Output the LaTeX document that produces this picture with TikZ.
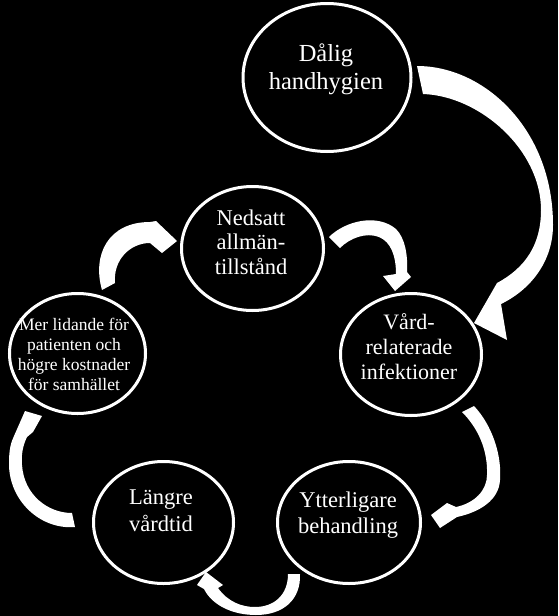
\documentclass[tikz,border=0pt]{standalone}
\usepackage{fontspec}
\setmainfont{Liberation Serif}
\usetikzlibrary{shapes.geometric}
\begin{document}
\begin{tikzpicture}[x=1pt,y=-1pt,
  cyc/.style={ellipse,draw=white,line width=3pt,fill=black,inner sep=0pt,outer sep=0pt},
  lbl/.style={text=white,align=center,inner sep=0pt},
  blockarrow/.style={fill=white,draw=none}]
\fill[black] (0,0) rectangle (558,616);
\useasboundingbox (0,0) rectangle (558,616);

% ellipses
\node[cyc,minimum width=168pt,minimum height=148pt] (dal) at (327,77.5) {};
\node[cyc,minimum width=142pt,minimum height=124pt] (ned) at (252.5,248.5) {};
\node[cyc,minimum width=141pt,minimum height=122pt] (vard) at (411,354.5) {};
\node[cyc,minimum width=136pt,minimum height=120pt] (mer) at (77.5,353.5) {};
\node[cyc,minimum width=140pt,minimum height=122pt] (lang) at (163.5,522.5) {};
\node[cyc,minimum width=143pt,minimum height=122pt] (ytt) at (349,522.5) {};

% texts
\node[lbl,font=\fontsize{24.5}{28}\selectfont] (dal-t) at (326,69.5) {Dålig\\handhygien};
\node[lbl,font=\fontsize{22.5}{24.5}\selectfont] (ned-t) at (251,242) {Nedsatt\\allmän-\\tillstånd};
\node[lbl,font=\fontsize{22}{25}\selectfont] (vard-t) at (409,346.5) {Vård-\\relaterade\\infektioner};
\node[lbl,font=\fontsize{17.5}{20}\selectfont] (mer-t) at (74,354) {Mer lidande för\\patienten och\\högre kostnader\\för samhället};
\node[lbl,font=\fontsize{22.5}{27}\selectfont] (lang-t) at (161,511) {Längre\\vårdtid};
\node[lbl,font=\fontsize{22.5}{26}\selectfont] (ytt-t) at (348,515) {Ytterligare\\behandling};

% block arrows
% Dålig handhygien -> Vårdrelaterade infektioner
\fill[blockarrow] (417,66) .. controls (485,66) and (553,130) .. (553,225)
  .. controls (553,262) and (530,290) .. (501,304)
  -- (507,340) -- (474,323) -- (497,283)
  .. controls (525,268) and (541,245) .. (541,210)
  .. controls (541,150) and (480,96) .. (423,94) -- cycle;
% Nedsatt -> Vård
\fill[blockarrow] (329,237) .. controls (345,221) and (377,213) .. (396,229)
  .. controls (405,238) and (408,255) .. (407,272)
  -- (411,277) -- (395,291) -- (383,276) -- (396,274)
  .. controls (396,256) and (391,242) .. (379,237)
  .. controls (366,232) and (350,238) .. (340,248) -- cycle;
% Vård -> Ytterligare
\fill[blockarrow] (474,406) .. controls (492,425) and (502,455) .. (500,480)
  .. controls (499,500) and (480,512) .. (457,517)
  -- (440,528) -- (431,515) -- (447,503) -- (456,507)
  .. controls (475,503) and (487,490) .. (487,475)
  .. controls (488,450) and (478,428) .. (462,412) -- cycle;
% Ytterligare -> Längre
\fill[blockarrow] (300,574) .. controls (301,600) and (283,615) .. (256,615)
  .. controls (232,615) and (212,605) .. (204,589)
  -- (197,585) -- (206,572) -- (223,585) -- (218,588)
  .. controls (228,602) and (242,607) .. (255,607)
  .. controls (274,607) and (288,595) .. (288,574) -- cycle;
% Längre -> Mer lidande
\fill[blockarrow] (75,527) .. controls (40,530) and (8,500) .. (9,462)
  .. controls (9,450) and (11,442) .. (14,436)
  -- (25,411) -- (42,416) -- (33,432) -- (27,437)
  .. controls (23,445) and (21,455) .. (22,465)
  .. controls (24,495) and (48,513) .. (72,513) -- cycle;
% Mer lidande -> Nedsatt
\fill[blockarrow] (102,290) .. controls (92,255) and (108,222) .. (150,222)
  -- (156,221) -- (177,241) -- (162,253) -- (150,243)
  .. controls (130,243) and (113,260) .. (115,283) -- cycle;
\end{tikzpicture}
\end{document}
